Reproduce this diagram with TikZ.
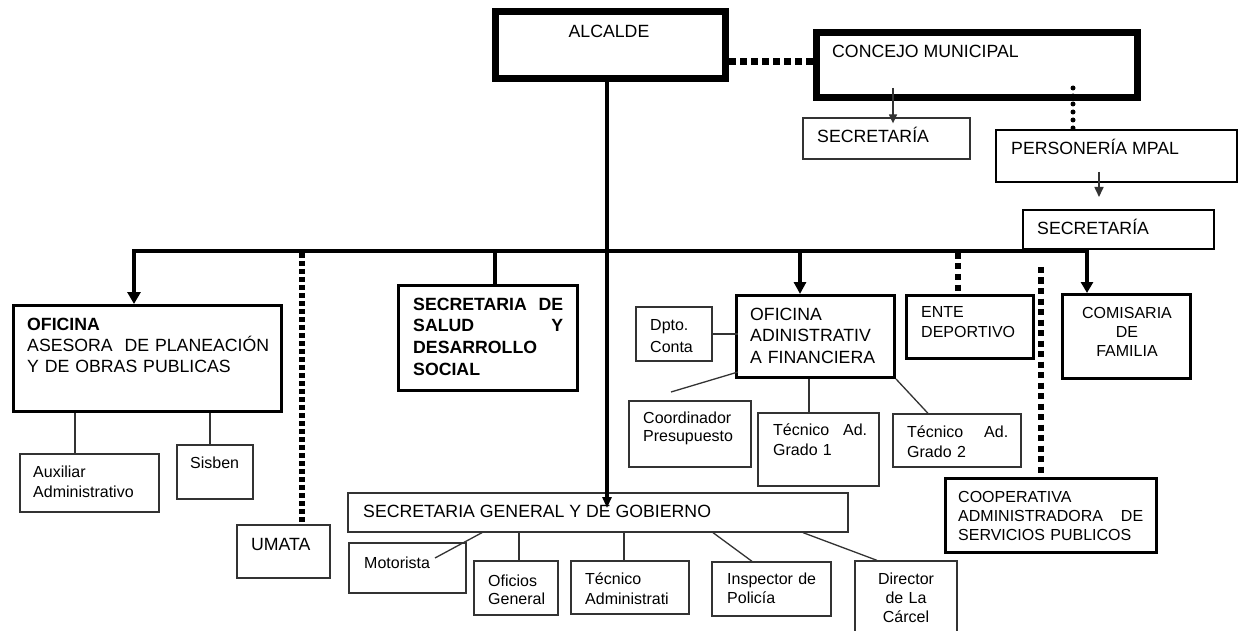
\documentclass[tikz,border=0pt]{standalone}
\usepackage{fontspec}
\setmainfont{Liberation Sans}
\usetikzlibrary{arrows.meta}
\newcommand\myfs[2]{\fontsize{#1}{#2}\selectfont}
\begin{document}
\begin{tikzpicture}[x=1pt,y=-1pt,
  bx/.style={draw=black!80, line width=1.3pt, inner sep=0pt},
  bxs/.style={draw=black, line width=2pt, inner sep=0pt},
  bxm/.style={draw=black, line width=3pt, inner sep=0pt},
  bxk/.style={draw=black, line width=7pt, inner sep=0pt},
  lbl/.style={inner sep=0pt, anchor=base west, align=left},
  conn/.style={draw=black!80, line width=1.3pt},
  tarr/.style={-{Triangle[length=9pt,width=8pt]}},
  karr/.style={-{Triangle[length=12pt,width=12pt]}},
  sqdot/.style={line width=6pt, dash pattern=on 5pt off 3pt},
  sqdotb/.style={line width=6pt, dash pattern=on 6pt off 4.5pt},
  kdash/.style={line width=7pt, dash pattern=on 7pt off 4pt},
  rdot/.style={line width=5pt, line cap=round, dash pattern=on 0pt off 8pt},
]
\useasboundingbox (0,0) rectangle (1240,631);
\clip (0,0) rectangle (1240,631);
\fill[white] (0,0) rectangle (1240,631);

% ---------- boxes ----------
\node[bxk, minimum width=230, minimum height=67] (alc) at (610.5,45) {};
\node[bxk, minimum width=321, minimum height=65] (con) at (977,65) {};
\node[bx, minimum width=167, minimum height=41] (sec1) at (886.5,138.5) {};
\node[bxs, minimum width=241, minimum height=52] (per) at (1116.5,156) {};
\node[bxs, minimum width=191, minimum height=39] (sec2) at (1118.5,229.5) {};
\node[bxm, minimum width=268, minimum height=106] (ofi) at (147.5,358.5) {};
\node[bx, minimum width=139, minimum height=58] (aux) at (89.5,483) {};
\node[bx, minimum width=76, minimum height=54] (sis) at (215,472) {};
\node[bx, minimum width=93, minimum height=53] (uma) at (283.5,551.5) {};
\node[bxm, minimum width=179, minimum height=105] (sal) at (488,338) {};
\node[bx, minimum width=76, minimum height=54] (dpt) at (674,334) {};
\node[bxm, minimum width=158, minimum height=82] (ofa) at (815.5,336.5) {};
\node[bx, minimum width=122, minimum height=66] (coo) at (690,434) {};
\node[bx, minimum width=121, minimum height=73] (te1) at (818.5,449.5) {};
\node[bx, minimum width=128, minimum height=53] (te2) at (957,440.5) {};
\node[bxm, minimum width=127, minimum height=63] (ent) at (970,327) {};
\node[bxm, minimum width=128, minimum height=84] (com) at (1126.5,336.5) {};
\node[bxm, minimum width=211, minimum height=74] (cop) at (1051,515.5) {};
\node[bx, minimum width=500, minimum height=39] (sg) at (598,512.5) {};
\node[bx, minimum width=117, minimum height=50] (mot) at (407.5,568) {};
\node[bx, minimum width=84, minimum height=54] (ofg) at (516,588) {};
\node[bx, minimum width=118, minimum height=53] (tad) at (630,587.5) {};
\node[bx, minimum width=119, minimum height=54] (ins) at (771.5,589) {};
\node[bx, minimum width=102, minimum height=89] (dir) at (906,605.5) {};

% ---------- labels ----------
\node[lbl, anchor=base, font=\myfs{17.7}{21.5}] (talc) at (609,38) {ALCALDE};
\node[lbl, font=\myfs{17.7}{21.5}] (tcon) at (832,58) {CONCEJO MUNICIPAL};
\node[lbl, font=\myfs{17.7}{21.5}] (tsec1) at (817,143) {SECRETARÍA};
\node[lbl, font=\myfs{17.7}{21.5}] (tper) at (1011,155) {PERSONERÍA MPAL};
\node[lbl, font=\myfs{17.7}{21.5}] (tsec2) at (1037,235) {SECRETARÍA};
\node[lbl, font=\myfs{17.7}{21.5}, text width=250] (tofi) at (27,330)
  {\textbf{OFICINA}\\ASESORA\ \ DE PLANEACIÓN\\Y DE OBRAS PUBLICAS};
\node[lbl, font=\myfs{16}{20}, text width=125] (taux) at (33,477) {Auxiliar\\Administrativo};
\node[lbl, font=\myfs{16}{20}] (tsis) at (190,468) {Sisben};
\node[lbl, font=\myfs{17.7}{21.5}] (tuma) at (251,550) {UMATA};
\node[lbl, font=\bfseries\myfs{17.7}{21.7}, text width=150] (tsal) at (413,310)
  {SECRETARIA\hfill DE\\SALUD\hfill Y\\DESARROLLO\\SOCIAL};
\node[lbl, font=\myfs{16}{22}, text width=60] (tdpt) at (650,330) {Dpto.\\Conta};
\node[lbl, font=\myfs{17.7}{21.5}, text width=140] (tofa) at (750,320)
  {OFICINA\\ADINISTRATIV\\A FINANCIERA};
\node[lbl, font=\myfs{16}{18}, text width=105] (tcoo) at (643,423) {Coordinador\\Presupuesto};
\node[lbl, font=\myfs{16}{20}, text width=94] (tte1) at (773,435) {Técnico\hfill Ad.\\Grado 1};
\node[lbl, font=\myfs{16}{20}, text width=101] (tte2) at (907,437) {Técnico\hfill Ad.\\Grado 2};
\node[lbl, font=\myfs{16}{20}, text width=105] (tent) at (921,317) {ENTE\\DEPORTIVO};
\node[lbl, anchor=base, align=center, font=\myfs{16}{19.5}, text width=120] (tcom) at (1127,318)
  {COMISARIA\\DE\\FAMILIA};
\node[lbl, font=\myfs{16}{19}, text width=185] (tcop) at (958,502)
  {COOPERATIVA\\ADMINISTRADORA\hfill DE\\SERVICIOS PUBLICOS};
\node[lbl, font=\myfs{17.7}{21.5}] (tsg) at (363,517) {SECRETARIA GENERAL Y DE GOBIERNO};
\node[lbl, font=\myfs{16}{20}] (tmot) at (364,568) {Motorista};
\node[lbl, font=\myfs{16}{18}, text width=65] (tofg) at (488,586) {Oficios\\General};
\node[lbl, font=\myfs{16}{20}, text width=100] (ttad) at (585,584) {Técnico\\Administrati};
\node[lbl, font=\myfs{16}{19}, text width=100] (tins) at (727,584) {Inspector de\\Policía};
\node[lbl, anchor=base, align=center, font=\myfs{16}{19}, text width=90] (tdir) at (906,584)
  {Director\\de La\\Cárcel};

% ---------- top connectors ----------
\coordinate (dy) at (0,62);
\draw[kdash] (alc.east |- dy) -- (con.west |- dy);
\coordinate (xa) at (893,0);
\draw[conn, tarr, shorten <=-13pt, shorten >=-6pt] (con.south -| xa) -- (sec1.north -| xa);
\coordinate (xp) at (1073,0);
\draw[rdot, shorten <=-13pt] (con.south -| xp) -- (per.north -| xp);
\coordinate (xq) at (1099,0);
\draw[conn, line width=1.6pt, -{Triangle[length=10pt,width=9pt]}, shorten <=-11pt, shorten >=12pt]
  (per.south -| xq) -- (sec2.north -| xq);

% ---------- trunk and bus ----------
\coordinate (trE) at (607,508);
\draw[line width=4pt, -{Triangle[length=11pt,width=9pt]}] (alc.south -| trE) -- (trE);
\coordinate (busL) at (134,251);
\coordinate (busR) at (1087,251);
\draw[line width=4.5pt, line join=miter,
  {Triangle[length=12pt,width=13pt]}-{Triangle[length=11pt,width=12pt]}]
  (busL |- ofi.north) -- (busL) -- (busR) -- (busR |- com.north);
\coordinate (xu) at (302,253);
\draw[sqdot] (xu) -- (xu |- uma.north);
\coordinate (xs) at (495,251);
\draw[line width=3.5pt] (xs) -- (xs |- sal.north);
\coordinate (xo) at (800,251);
\draw[line width=4pt, karr] (xo) -- (xo |- ofa.north);
\coordinate (xe) at (958,253);
\draw[sqdotb] (xe) -- (xe |- ent.north);
\coordinate (xc) at (1041,267);
\draw[sqdotb] (xc) -- (xc |- cop.north);

% ---------- thin connectors ----------
\coordinate (la) at (75,0);
\draw[conn] (ofi.south -| la) -- (aux.north -| la);
\coordinate (ls) at (210,0);
\draw[conn] (ofi.south -| ls) -- (sis.north -| ls);
\draw[conn, shorten >=-3pt] (dpt.east) -- (dpt.east -| ofa.west);
\coordinate (cA) at (738,372);
\coordinate (cB) at (671,392);
\draw[conn] (cA) -- (cB);
\coordinate (l1) at (809,0);
\draw[conn] (ofa.south -| l1) -- (te1.north -| l1);
\coordinate (l2) at (928,0);
\draw[conn] (ofa.south east) -- (te2.north -| l2);
\coordinate (m2) at (435,558);
\coordinate (m1) at (482,0);
\draw[conn] (sg.south -| m1) -- (m2);
\coordinate (lo) at (519,0);
\draw[conn] (sg.south -| lo) -- (ofg.north -| lo);
\coordinate (lt) at (624,0);
\draw[conn] (sg.south -| lt) -- (tad.north -| lt);
\coordinate (i1) at (713,0);
\coordinate (i2) at (752,0);
\draw[conn] (sg.south -| i1) -- (ins.north -| i2);
\coordinate (d1) at (803,0);
\coordinate (d2) at (877,0);
\draw[conn] (sg.south -| d1) -- (dir.north -| d2);
\end{tikzpicture}
\end{document}
